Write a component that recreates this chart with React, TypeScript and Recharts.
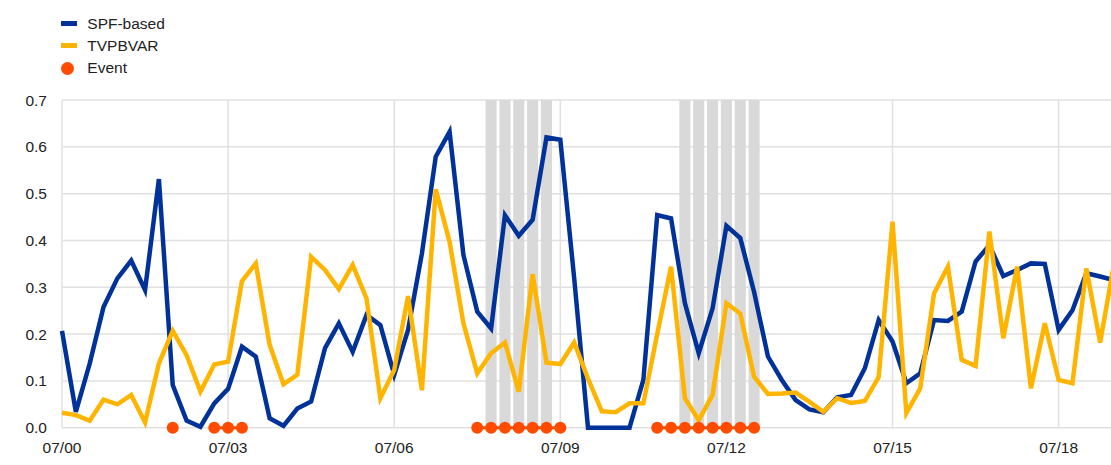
import React from 'react'
import { ComposedChart, Line, XAxis, YAxis, CartesianGrid, ReferenceArea, Legend } from 'recharts'

// quarterly readings, first point = 07/00
const spfBased = [
  0.207, 0.034, 0.137, 0.258, 0.319, 0.357, 0.294, 0.531, 0.091, 0.015,
  0.002, 0.052, 0.083, 0.173, 0.152, 0.020, 0.004, 0.041, 0.056, 0.170,
  0.223, 0.162, 0.241, 0.219, 0.113, 0.209, 0.372, 0.579, 0.632, 0.369,
  0.248, 0.212, 0.454, 0.410, 0.444, 0.620, 0.615, 0.320, 0.000, 0.000,
  0.000, 0.000, 0.102, 0.454, 0.447, 0.266, 0.159, 0.255, 0.431, 0.405,
  0.290, 0.152, 0.102, 0.059, 0.039, 0.033, 0.065, 0.070, 0.127, 0.230,
  0.184, 0.095, 0.116, 0.230, 0.228, 0.248, 0.355, 0.390, 0.324, 0.337,
  0.351, 0.350, 0.209, 0.251, 0.330, 0.323, 0.315,
]

const tvpbvar = [
  0.032, 0.027, 0.015, 0.060, 0.050, 0.070, 0.011, 0.137, 0.207, 0.155,
  0.077, 0.135, 0.141, 0.313, 0.351, 0.177, 0.093, 0.113, 0.365, 0.337,
  0.296, 0.348, 0.276, 0.063, 0.123, 0.281, 0.080, 0.509, 0.397, 0.223,
  0.116, 0.159, 0.182, 0.077, 0.328, 0.139, 0.136, 0.182, 0.105, 0.035,
  0.033, 0.052, 0.052, 0.200, 0.344, 0.063, 0.016, 0.070, 0.266, 0.244,
  0.109, 0.072, 0.073, 0.075, 0.055, 0.034, 0.063, 0.053, 0.057, 0.108,
  0.440, 0.031, 0.084, 0.287, 0.344, 0.145, 0.132, 0.419, 0.191, 0.344,
  0.084, 0.223, 0.102, 0.095, 0.340, 0.182, 0.350,
]

const eventQuarters = [8, 11, 12, 13, 30, 31, 32, 33, 34, 35, 36, 43, 44, 45, 46, 47, 48, 49, 50]
const shadedQuarters = [31, 32, 33, 34, 35, 45, 46, 47, 48, 49, 50]

const tickQuarters = [0, 12, 24, 36, 48, 60, 72]
const tickLabels = ['07/00', '07/03', '07/06', '07/09', '07/12', '07/15', '07/18']
const yTicks = [0, 0.1, 0.2, 0.3, 0.4, 0.5, 0.6, 0.7]

const BLUE = '#003299'
const YELLOW = '#FFB400'
const RED = '#FF4B00'
const GREY = '#D9D9D9'
const FONT = 'Arial, "Liberation Sans", sans-serif'

const data = spfBased.map((v, i) => ({
  q: i,
  spf: v,
  tvp: tvpbvar[i],
  event: eventQuarters.includes(i) ? 0 : null,
}))

const legendItems = [
  { label: 'SPF-based', color: BLUE, dot: false },
  { label: 'TVPBVAR', color: YELLOW, dot: false },
  { label: 'Event', color: RED, dot: true },
]

function LegendBox() {
  return (
    <div style={{ position: 'relative', width: 260, height: 80, fontFamily: FONT }}>
      {legendItems.map((it, k) => (
        <div
          key={it.label}
          style={{
            position: 'absolute', left: 53, top: 4.5 + k * 22.4, height: 22,
            display: 'flex', alignItems: 'center', fontSize: 15.5, lineHeight: '22px',
            color: '#222', whiteSpace: 'nowrap',
          }}
        >
          <span
            style={{
              display: 'inline-block',
              width: it.dot ? 13 : 16,
              height: it.dot ? 13 : 5,
              borderRadius: it.dot ? '50%' : 0,
              background: it.color,
            }}
          />
          <span style={{ marginLeft: it.dot ? 13.3 : 10.3 }}>{it.label}</span>
        </div>
      ))}
    </div>
  )
}

export default function App() {
  // last quarter sits just past the right edge: drop the body margin, pad by hand and clip
  return (
    <div
      style={{
        width: 1111, height: 465, boxSizing: 'border-box', padding: '8px 0 0 8px',
        overflow: 'hidden', fontFamily: FONT, background: '#fff',
      }}
    >
      <style>{'html, body { margin: 0; overflow: hidden; }'}</style>
      <ComposedChart width={1110} height={457} data={data} margin={{ top: 92, right: 4, bottom: 7.3, left: 0 }}>
        <CartesianGrid stroke="#E0E0E0" strokeWidth={1.5} />
        {shadedQuarters.map((q) => (
          <ReferenceArea key={q} x1={q - 0.4} x2={q + 0.4} y1={0} y2={0.7} fill={GREY} fillOpacity={1} stroke="none" ifOverflow="visible" />
        ))}
        <XAxis
          type="number"
          dataKey="q"
          domain={[0, 76]}
          ticks={tickQuarters}
          interval={0}
          tickFormatter={(v: number) => tickLabels[tickQuarters.indexOf(v)]}
          axisLine={false}
          tickLine={false}
          tickMargin={8}
          height={30}
          tick={{ fill: '#222', fontSize: 15.5, fontFamily: FONT }}
        />
        <YAxis
          domain={[0, 0.7]}
          ticks={yTicks}
          interval={0}
          tickFormatter={(v: number) => v.toFixed(1)}
          axisLine={false}
          tickLine={false}
          tickMargin={9}
          width={54}
          tick={{ fill: '#222', fontSize: 15.5, fontFamily: FONT }}
        />
        <Legend layout="vertical" align="center" verticalAlign="middle" wrapperStyle={{ top: 0, left: 0, width: 260, height: 80 }} content={() => <LegendBox />} />
        <Line dataKey="spf" stroke={BLUE} strokeWidth={4.5} dot={false} activeDot={false} isAnimationActive={false} strokeLinejoin="miter" />
        <Line dataKey="tvp" stroke={YELLOW} strokeWidth={4.5} dot={false} activeDot={false} isAnimationActive={false} strokeLinejoin="miter" />
        <Line
          dataKey="event"
          stroke={RED}
          strokeWidth={3}
          dot={{ r: 6, fill: RED, stroke: RED, strokeWidth: 0 }}
          activeDot={false}
          isAnimationActive={false}
        />
      </ComposedChart>
    </div>
  )
}
